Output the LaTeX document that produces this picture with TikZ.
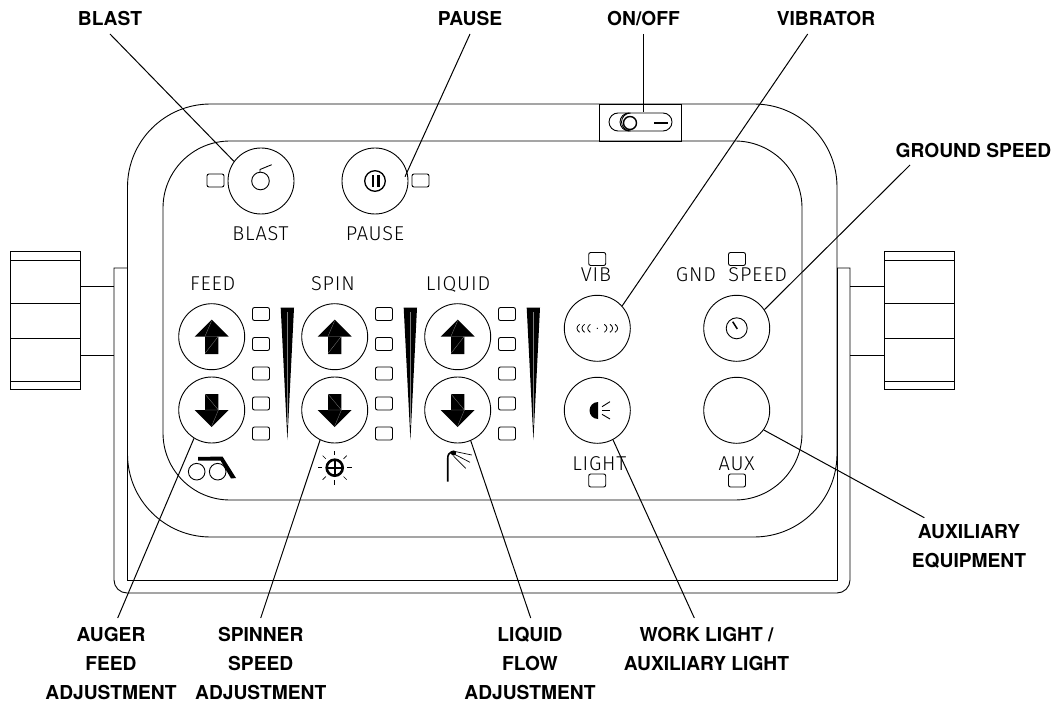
\documentclass[tikz,border=0pt]{standalone}
\usepackage{fontspec}
\usetikzlibrary{arrows}
\usetikzlibrary{calc}
\newfontfamily\leadfont{TeX Gyre Heros}
\newfontfamily\panelfont[LetterSpace=4]{Fira Sans Light}

\begin{document}
\begin{tikzpicture}[x=1pt,y=-1pt,line width=0.9pt]
\tikzstyle{button} = [draw,circle,minimum size=66pt,inner sep=0pt]
\tikzstyle{led} = [draw,rounded corners=2pt,minimum width=17pt,minimum height=13pt,inner sep=0pt]
\tikzstyle{panellabel} = [inner sep=0pt,text height=13.8pt,text depth=0pt,font=\fontsize{20}{24}\panelfont\selectfont]
\tikzstyle{leadlabel} = [inner sep=8pt,align=center,font=\fontsize{19.2}{29}\leadfont\bfseries\selectfont]
\tikzstyle{leader} = [line width=1pt]
\useasboundingbox (0,0) rectangle (1054,703);

\draw[rounded corners=83pt] (127.5,104) rectangle (837,537);
\draw[rounded corners=67pt] (163,141) rectangle (802,500);
\draw (127.5,268) -- (114,268) [rounded corners=13pt] -- (114,593) -- (850,593) [sharp corners] -- (850,268) -- (837,268);
\draw (127.5,268) -- (127.5,580) -- (837,580) -- (837,268);

\foreach \xa/\xb/\xc/\xd in {10/80/80/114, 884/954/850/884}{
    \draw (\xa,251) rectangle (\xb,389);
    \foreach \yy in {260,303,338,381}{
        \draw (\xa,\yy) -- (\xb,\yy);
    }
    \draw (\xc,286) -- (\xd,286);
    \draw (\xc,355) -- (\xd,355);
}

\node[draw,minimum width=82pt,minimum height=37pt,inner sep=0pt] (switchbox) at (640,122.5) {};
\draw[rounded corners=9pt] (609,113) rectangle (672,131);
\draw (629,113) arc (270:90:9);
\draw (630.5,113) arc (270:90:9);
\draw[line width=1.4pt] (630,123) circle (6.5);
\draw[line width=1.6pt] (654,123) -- (668,123);
\coordinate (tiponoff) at (643.5,112);

\node[button] (btnblast) at (261,181) {};
\node[button] (btnpause) at (375,181) {};
\node[led] at (215.5,180.5) {};
\node[led] at (420.5,180.5) {};
\draw (260.5,181) circle (8.8);
\draw (260,172) -- (260,169.5) -- (271.7,164.7);
\draw[line width=1.3pt] (375,181) circle (10.3);
\fill (371.5,175) rectangle (374.2,187);
\fill (377,175) rectangle (379.7,187);
\coordinate (tippause) at (405,176.7);
\node[panellabel] at (260.5,234) {BLAST};
\node[panellabel] at (375,234) {PAUSE};

\foreach \xx/\name/\txt/\tx in {211.7/feed/FEED/212.7, 334.7/spin/SPIN/333, 457.7/liquid/LIQUID/458}{
    \node[panellabel] at (\tx,283.7) {\txt};
    \node[button] (btn\name up) at (\xx,336.7) {};
    \node[button] (btn\name down) at (\xx,410) {};
    \begin{scope}[shift={(btn\name up)}]
        \fill (0,-17) -- (17,0) -- (6.7,0) -- (6.7,17.3) -- (-6.7,17.3) -- (-6.7,0) -- (-17,0) -- cycle;
        \draw[line width=0.3pt,gray] (0,-16) -- (-6.7,-0.5) -- (6.7,-0.5) -- (-6.7,16.7);
    \end{scope}
    \begin{scope}[shift={(btn\name down)}]
        \fill (0,17) -- (17,0) -- (6.7,0) -- (6.7,-16) -- (-6.7,-16) -- (-6.7,0) -- (-17,0) -- cycle;
        \draw[line width=0.3pt,gray] (-6.7,-16) -- (6.7,0) -- (-6.7,0);
        \draw[line width=0.3pt,gray] (6.7,0) -- (0,16);
    \end{scope}
    \foreach \yy in {314,344,373.5,403.5,433.5}{
        \node[led] at (\xx+49.3,\yy) {};
    }
    \fill (\xx+69,307.7) -- (\xx+82.3,307.7) -- (\xx+75.7,440) -- cycle;
    \draw[line width=0.3pt,gray] (\xx+75.7,312) -- (\xx+75.7,425);
}

\draw (196.7,471.7) circle (8.3);
\draw (217.7,471.7) circle (8.3);
\fill (198,457) -- (222.5,456.5) -- (236,478) -- (231,478.5) -- (220.5,460.5) -- (198,460.5) -- cycle;

\begin{scope}[shift={(334.7,467.7)}]
    \draw[line width=2.6pt] (0,0) circle (8);
    \draw[line width=1.8pt] (-7,0) -- (7,0);
    \draw[line width=1.8pt] (0,-7) -- (0,7);
    \foreach \ang in {0,45,...,315}{
        \draw[line width=0.7pt] (\ang:12.5) -- (\ang:17);
    }
\end{scope}

\draw[line width=1.6pt] (447.7,481.7) -- (447.7,459) .. controls (447.7,455) and (449,452.5) .. (452,451.5);
\fill (453.5,453) circle (2.6);
\draw[line width=0.7pt] (455,451.5) -- (471.7,455);
\draw[line width=0.7pt] (455,454.5) -- (470,462.3);
\draw[line width=0.7pt] (453.5,456) -- (465.7,468.3);

\node[button] (btnvib) at (597.3,328.3) {};
\node[button] (btnlight) at (597.3,410.3) {};
\node[button] (btngnd) at (736.7,328.3) {};
\node[button] (btnaux) at (736.7,410.3) {};

\node[led] at (597.2,259) {};
\node[led] at (737,259) {};
\node[led] at (597.2,480.5) {};
\node[led] at (737,480.5) {};
\node[panellabel] at (596,275) {VIB};
\node[panellabel] at (696,275) {GND};
\node[panellabel] at (757.7,275) {SPEED};
\node[panellabel] at (599.3,464) {LIGHT};
\node[panellabel] at (736.7,464) {AUX};

\begin{scope}[shift={(btnvib)}]
    \foreach \dx in {-19.7,-14.7,-9}{
        \draw[line width=0.8pt,xshift=\dx pt] (2,-4) .. controls (-1.5,-1.5) and (-1.5,1.5) .. (2,4);
        \draw[line width=0.8pt,xshift=-\dx pt] (-2,-4) .. controls (1.5,-1.5) and (1.5,1.5) .. (-2,4);
    }
    \fill (0,0) circle (0.7);
\end{scope}

\draw (btngnd) circle (10.5);
\draw[line width=1.5pt] (732.7,321.7) -- (737.3,329);

\fill (598,402) arc (270:90:8.5) -- cycle;
\draw (602,406.7) -- (610,401.7);
\draw (602,410.7) -- (610,410.7);
\draw (602,414.3) -- (610,419);

\node[leadlabel,anchor=south,text depth=0pt] (lblblast) at (110,34) {BLAST};
\node[leadlabel,anchor=south,text depth=0pt] (lblpause) at (470,34) {PAUSE};
\node[leadlabel,anchor=south,text depth=0pt] (lblonoff) at (643.5,34) {ON/OFF};
\node[leadlabel,anchor=south,text depth=0pt] (lblvib) at (826,34) {VIBRATOR};
\node[leadlabel,anchor=south,text depth=0pt] (lblgnd) at (973.5,166) {GROUND SPEED};
\node[leadlabel,anchor=north] (lblaux) at (969,516) {AUXILIARY\\EQUIPMENT};
\node[leadlabel,anchor=north] (lblauger) at (111,619) {AUGER\\FEED\\ADJUSTMENT};
\node[leadlabel,anchor=north] (lblspinner) at (260.7,619) {SPINNER\\SPEED\\ADJUSTMENT};
\node[leadlabel,anchor=north] (lblliquid) at (530,619) {LIQUID\\FLOW\\ADJUSTMENT};
\node[leadlabel,anchor=north] (lblwork) at (706.5,619) {WORK LIGHT /\\AUXILIARY LIGHT};

\draw[leader] (lblblast.south) -- (btnblast.144);
\draw[leader] (lblpause.south) -- (tippause);
\draw[leader] (lblonoff.south) -- (tiponoff);
\draw[leader] ($(lblvib.south)+(-18.3,0)$) -- (btnvib.42);
\draw[leader] ($(lblgnd.south)+(-63.5,-1)$) -- (btngnd.34);
\draw[leader] ($(lblaux.north)+(-44.7,1.7)$) -- (btnaux.-36.5);
\draw[leader] ($(lblauger.north)+(6.7,-1)$) -- (btnfeeddown.238.5);
\draw[leader] ($(lblspinner.north)+(0,-1)$) -- (btnspindown.244);
\draw[leader] ($(lblliquid.north)+(0.7,-1)$) -- (btnliquiddown.-67.7);
\draw[leader] ($(lblwork.north)+(-12.2,-1)$) -- (btnlight.-62);
\end{tikzpicture}
\end{document}
